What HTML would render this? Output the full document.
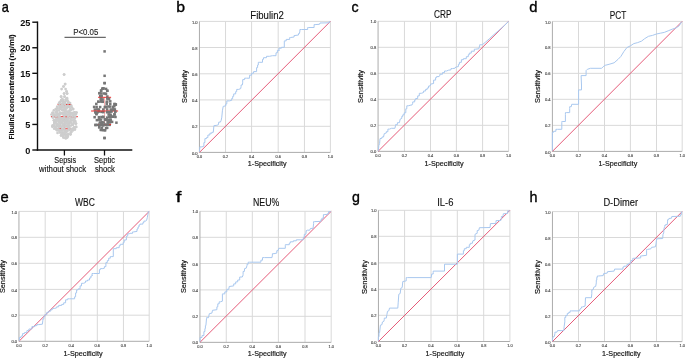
<!DOCTYPE html>
<html><head><meta charset="utf-8"><style>
html,body{margin:0;padding:0;background:#fff;overflow:hidden;width:685px;height:358px;}
svg{display:block;font-family:"Liberation Sans", sans-serif;will-change:transform;}
</style></head><body>
<svg width="685" height="358" viewBox="0 0 685 358">
<rect width="685" height="358" fill="#fff"/>
<line x1="225.55" y1="21.40" x2="225.55" y2="152.40" stroke="#d9d9d9" stroke-width="1"/>
<line x1="251.60" y1="21.40" x2="251.60" y2="152.40" stroke="#d9d9d9" stroke-width="1"/>
<line x1="278.20" y1="21.40" x2="278.20" y2="152.40" stroke="#d9d9d9" stroke-width="1"/>
<line x1="304.45" y1="21.40" x2="304.45" y2="152.40" stroke="#d9d9d9" stroke-width="1"/>
<line x1="330.40" y1="21.40" x2="330.40" y2="152.40" stroke="#d9d9d9" stroke-width="1"/>
<line x1="199.45" y1="21.40" x2="330.40" y2="21.40" stroke="#d9d9d9" stroke-width="1"/>
<line x1="199.45" y1="47.50" x2="330.40" y2="47.50" stroke="#d9d9d9" stroke-width="1"/>
<line x1="199.45" y1="73.80" x2="330.40" y2="73.80" stroke="#d9d9d9" stroke-width="1"/>
<line x1="199.45" y1="99.90" x2="330.40" y2="99.90" stroke="#d9d9d9" stroke-width="1"/>
<line x1="199.45" y1="126.30" x2="330.40" y2="126.30" stroke="#d9d9d9" stroke-width="1"/>
<line x1="199.45" y1="21.40" x2="199.45" y2="152.40" stroke="#acacac" stroke-width="1"/>
<line x1="199.45" y1="152.40" x2="330.40" y2="152.40" stroke="#acacac" stroke-width="1"/>
<line x1="199.45" y1="152.40" x2="330.40" y2="21.40" stroke="#e55a78" stroke-width="1.0"/>
<polyline points="199.4,151.9 199.8,148.1 199.8,146.9 202.0,146.9 203.9,146.1 203.9,142.6 204.9,142.6 204.9,138.6 206.5,138.6 206.5,137.6 207.9,137.6 207.9,135.0 209.9,135.0 209.9,133.2 211.9,133.2 211.9,132.3 213.3,132.3 213.9,125.7 216.9,125.3 218.4,124.7 218.8,122.1 220.4,122.1 221.2,120.3 221.8,117.2 222.4,110.8 223.2,106.4 225.8,105.8 225.8,103.9 226.8,103.9 226.8,100.9 229.4,100.9 231.7,100.3 231.7,98.5 232.7,98.5 232.7,96.3 233.7,96.3 233.7,93.9 235.7,93.9 235.7,91.6 236.7,91.6 236.7,89.4 238.7,89.4 240.7,88.6 241.1,86.6 241.1,85.0 242.3,85.0 242.7,82.9 242.7,79.6 244.6,79.6 244.6,78.2 246.6,78.2 249.6,78.2 249.6,75.2 251.6,75.2 251.6,73.2 253.6,73.2 253.6,71.6 256.6,71.6 256.6,67.6 257.6,67.6 257.6,65.0 258.3,65.0 258.3,62.3 259.1,62.3 262.5,62.3 262.5,59.3 263.5,59.3 263.5,57.7 266.5,57.7 266.5,56.3 269.5,56.3 272.4,55.7 276.0,55.7 276.0,52.8 277.4,52.8 277.4,50.4 279.4,50.4 278.9,49.2 278.9,48.2 281.4,48.2 281.4,47.3 284.3,47.3 284.3,41.9 284.3,40.9 286.2,40.9 286.2,39.4 289.7,39.4 289.7,37.5 290.6,37.5 294.1,37.0 294.1,35.5 295.0,35.5 298.5,35.0 298.5,33.6 299.4,33.6 299.9,31.1 299.9,29.5 301.4,29.5 307.7,29.5 307.7,27.5 308.7,27.5 314.1,27.5 314.1,24.6 315.1,24.6 319.5,24.3 320.0,23.0 329.3,22.8 329.3,21.6 330.2,21.6" fill="none" stroke="#a9c8ef" stroke-width="1.0" stroke-linejoin="round"/>
<text x="199.45" y="157.90" font-size="3.9" text-anchor="middle" fill="#3a3a3a" stroke="#3a3a3a" stroke-width="0.1">0.0</text>
<text x="197.65" y="154.50" font-size="4.1" text-anchor="end" fill="#3a3a3a" stroke="#3a3a3a" stroke-width="0.1">0.0</text>
<text x="225.55" y="157.90" font-size="3.9" text-anchor="middle" fill="#3a3a3a" stroke="#3a3a3a" stroke-width="0.1">0.2</text>
<text x="197.65" y="128.40" font-size="4.1" text-anchor="end" fill="#3a3a3a" stroke="#3a3a3a" stroke-width="0.1">0.2</text>
<text x="251.60" y="157.90" font-size="3.9" text-anchor="middle" fill="#3a3a3a" stroke="#3a3a3a" stroke-width="0.1">0.4</text>
<text x="197.65" y="102.00" font-size="4.1" text-anchor="end" fill="#3a3a3a" stroke="#3a3a3a" stroke-width="0.1">0.4</text>
<text x="278.20" y="157.90" font-size="3.9" text-anchor="middle" fill="#3a3a3a" stroke="#3a3a3a" stroke-width="0.1">0.6</text>
<text x="197.65" y="75.90" font-size="4.1" text-anchor="end" fill="#3a3a3a" stroke="#3a3a3a" stroke-width="0.1">0.6</text>
<text x="304.45" y="157.90" font-size="3.9" text-anchor="middle" fill="#3a3a3a" stroke="#3a3a3a" stroke-width="0.1">0.8</text>
<text x="197.65" y="49.60" font-size="4.1" text-anchor="end" fill="#3a3a3a" stroke="#3a3a3a" stroke-width="0.1">0.8</text>
<text x="330.40" y="157.90" font-size="3.9" text-anchor="middle" fill="#3a3a3a" stroke="#3a3a3a" stroke-width="0.1">1.0</text>
<text x="197.65" y="23.50" font-size="4.1" text-anchor="end" fill="#3a3a3a" stroke="#3a3a3a" stroke-width="0.1">1.0</text>
<text x="267.10" y="18.50" font-size="10.0" text-anchor="middle" textLength="33.60" lengthAdjust="spacingAndGlyphs" fill="#111" stroke="#111" stroke-width="0.12">Fibulin2</text>
<text x="267.15" y="166.10" font-size="7.2" text-anchor="middle" textLength="38.70" lengthAdjust="spacingAndGlyphs" fill="#111" stroke="#111" stroke-width="0.16">1-Specificity</text>
<text transform="translate(187.10,86.55) rotate(-90)" font-size="7.2" text-anchor="middle" textLength="32.90" lengthAdjust="spacingAndGlyphs" fill="#111" stroke="#111" stroke-width="0.16">Sensitivity</text>
<line x1="404.45" y1="21.30" x2="404.45" y2="151.35" stroke="#d9d9d9" stroke-width="1"/>
<line x1="430.50" y1="21.30" x2="430.50" y2="151.35" stroke="#d9d9d9" stroke-width="1"/>
<line x1="456.40" y1="21.30" x2="456.40" y2="151.35" stroke="#d9d9d9" stroke-width="1"/>
<line x1="482.60" y1="21.30" x2="482.60" y2="151.35" stroke="#d9d9d9" stroke-width="1"/>
<line x1="508.60" y1="21.30" x2="508.60" y2="151.35" stroke="#d9d9d9" stroke-width="1"/>
<line x1="378.07" y1="21.30" x2="508.60" y2="21.30" stroke="#d9d9d9" stroke-width="1"/>
<line x1="378.07" y1="47.30" x2="508.60" y2="47.30" stroke="#d9d9d9" stroke-width="1"/>
<line x1="378.07" y1="73.30" x2="508.60" y2="73.30" stroke="#d9d9d9" stroke-width="1"/>
<line x1="378.07" y1="99.30" x2="508.60" y2="99.30" stroke="#d9d9d9" stroke-width="1"/>
<line x1="378.07" y1="125.30" x2="508.60" y2="125.30" stroke="#d9d9d9" stroke-width="1"/>
<line x1="378.07" y1="21.30" x2="378.07" y2="151.35" stroke="#acacac" stroke-width="1"/>
<line x1="378.07" y1="151.35" x2="508.60" y2="151.35" stroke="#acacac" stroke-width="1"/>
<line x1="378.07" y1="151.35" x2="508.60" y2="21.30" stroke="#e55a78" stroke-width="1.0"/>
<polyline points="378.4,150.9 378.8,145.6 379.6,143.6 380.0,138.6 382.0,138.2 382.0,137.0 383.5,137.0 384.3,133.6 386.3,133.0 386.3,131.7 387.9,131.7 387.9,129.1 389.5,129.1 391.5,128.3 394.9,128.3 395.5,125.7 395.5,124.7 397.4,124.7 397.4,122.7 399.4,122.7 400.2,119.1 401.8,118.4 401.8,116.4 402.8,116.4 402.8,114.8 404.2,114.8 404.2,112.8 405.8,112.8 405.8,108.8 406.8,108.8 406.8,105.8 408.2,105.8 410.1,105.3 412.1,104.9 412.7,103.3 412.7,101.9 414.7,101.9 414.7,99.9 415.7,99.9 415.7,98.5 417.7,98.5 417.7,95.9 419.3,95.9 419.3,93.3 421.3,93.3 423.6,92.5 423.6,91.0 425.6,91.0 425.6,89.4 427.2,89.4 427.2,88.0 428.6,88.0 428.6,86.0 430.0,86.0 430.6,85.0 430.6,84.1 433.6,83.5 433.6,80.1 435.6,80.1 435.6,77.6 436.6,77.6 436.6,76.6 439.1,76.6 439.9,75.2 439.9,74.2 442.5,74.2 442.5,72.6 444.5,72.6 444.5,71.0 446.5,71.0 448.5,70.2 451.0,69.8 451.0,68.6 452.4,68.6 455.0,68.2 455.8,67.0 458.4,66.6 458.4,64.3 459.4,64.3 459.4,62.3 461.4,62.3 461.4,59.7 463.4,59.7 463.4,58.7 466.3,58.7 466.3,56.7 468.3,56.7 468.3,54.7 469.3,54.7 469.3,53.1 471.3,53.1 471.3,51.2 474.3,51.2 474.3,49.2 475.3,49.2 478.8,48.8 479.6,45.8 479.6,44.8 482.2,44.8 485.2,42.4 489.2,38.9 493.1,35.3 497.1,31.9 501.1,28.5 505.0,25.0 508.6,21.4" fill="none" stroke="#a9c8ef" stroke-width="1.0" stroke-linejoin="round"/>
<text x="378.07" y="156.85" font-size="3.9" text-anchor="middle" fill="#3a3a3a" stroke="#3a3a3a" stroke-width="0.1">0.0</text>
<text x="376.27" y="153.45" font-size="4.1" text-anchor="end" fill="#3a3a3a" stroke="#3a3a3a" stroke-width="0.1">0.0</text>
<text x="404.45" y="156.85" font-size="3.9" text-anchor="middle" fill="#3a3a3a" stroke="#3a3a3a" stroke-width="0.1">0.2</text>
<text x="376.27" y="127.40" font-size="4.1" text-anchor="end" fill="#3a3a3a" stroke="#3a3a3a" stroke-width="0.1">0.2</text>
<text x="430.50" y="156.85" font-size="3.9" text-anchor="middle" fill="#3a3a3a" stroke="#3a3a3a" stroke-width="0.1">0.4</text>
<text x="376.27" y="101.40" font-size="4.1" text-anchor="end" fill="#3a3a3a" stroke="#3a3a3a" stroke-width="0.1">0.4</text>
<text x="456.40" y="156.85" font-size="3.9" text-anchor="middle" fill="#3a3a3a" stroke="#3a3a3a" stroke-width="0.1">0.6</text>
<text x="376.27" y="75.40" font-size="4.1" text-anchor="end" fill="#3a3a3a" stroke="#3a3a3a" stroke-width="0.1">0.6</text>
<text x="482.60" y="156.85" font-size="3.9" text-anchor="middle" fill="#3a3a3a" stroke="#3a3a3a" stroke-width="0.1">0.8</text>
<text x="376.27" y="49.40" font-size="4.1" text-anchor="end" fill="#3a3a3a" stroke="#3a3a3a" stroke-width="0.1">0.8</text>
<text x="508.60" y="156.85" font-size="3.9" text-anchor="middle" fill="#3a3a3a" stroke="#3a3a3a" stroke-width="0.1">1.0</text>
<text x="376.27" y="23.40" font-size="4.1" text-anchor="end" fill="#3a3a3a" stroke="#3a3a3a" stroke-width="0.1">1.0</text>
<text x="442.80" y="18.40" font-size="10.0" text-anchor="middle" textLength="17.40" lengthAdjust="spacingAndGlyphs" fill="#111" stroke="#111" stroke-width="0.12">CRP</text>
<text x="444.05" y="166.10" font-size="7.2" text-anchor="middle" textLength="39.10" lengthAdjust="spacingAndGlyphs" fill="#111" stroke="#111" stroke-width="0.16">1-Specificity</text>
<text transform="translate(362.90,86.60) rotate(-90)" font-size="7.2" text-anchor="middle" textLength="33.00" lengthAdjust="spacingAndGlyphs" fill="#111" stroke="#111" stroke-width="0.16">Sensitivity</text>
<line x1="578.50" y1="21.40" x2="578.50" y2="151.40" stroke="#d9d9d9" stroke-width="1"/>
<line x1="604.50" y1="21.40" x2="604.50" y2="151.40" stroke="#d9d9d9" stroke-width="1"/>
<line x1="630.40" y1="21.40" x2="630.40" y2="151.40" stroke="#d9d9d9" stroke-width="1"/>
<line x1="656.50" y1="21.40" x2="656.50" y2="151.40" stroke="#d9d9d9" stroke-width="1"/>
<line x1="682.20" y1="21.40" x2="682.20" y2="151.40" stroke="#d9d9d9" stroke-width="1"/>
<line x1="552.40" y1="21.40" x2="682.20" y2="21.40" stroke="#d9d9d9" stroke-width="1"/>
<line x1="552.40" y1="47.35" x2="682.20" y2="47.35" stroke="#d9d9d9" stroke-width="1"/>
<line x1="552.40" y1="73.35" x2="682.20" y2="73.35" stroke="#d9d9d9" stroke-width="1"/>
<line x1="552.40" y1="99.30" x2="682.20" y2="99.30" stroke="#d9d9d9" stroke-width="1"/>
<line x1="552.40" y1="125.36" x2="682.20" y2="125.36" stroke="#d9d9d9" stroke-width="1"/>
<line x1="552.40" y1="21.40" x2="552.40" y2="151.40" stroke="#acacac" stroke-width="1"/>
<line x1="552.40" y1="151.40" x2="682.20" y2="151.40" stroke="#acacac" stroke-width="1"/>
<line x1="552.40" y1="151.40" x2="682.20" y2="21.40" stroke="#e55a78" stroke-width="1.0"/>
<polyline points="552.4,150.6 552.4,134.3 552.4,132.3 553.5,132.3 553.5,131.3 555.9,131.3 555.9,129.3 557.5,129.3 561.8,129.3 561.8,122.4 561.8,121.5 562.8,121.5 565.4,121.5 565.4,114.6 565.4,112.6 566.8,112.6 569.7,112.6 569.7,108.6 569.7,106.7 571.3,106.7 571.7,104.3 578.6,104.3 578.6,89.9 581.5,89.9 581.5,85.0 581.1,75.6 586.1,75.6 586.1,70.6 587.4,69.3 590.4,68.3 601.6,68.3 603.2,66.7 605.2,65.3 609.1,64.3 614.1,62.8 618.0,59.4 620.9,56.4 623.9,51.5 626.9,47.6 630.8,45.6 633.8,43.6 637.7,42.6 641.6,41.1 644.6,38.7 648.5,36.3 652.5,35.4 656.4,34.0 660.4,33.2 664.3,32.4 668.2,30.8 672.2,29.2 676.1,27.9 679.1,25.9 681.7,21.8" fill="none" stroke="#a9c8ef" stroke-width="1.0" stroke-linejoin="round"/>
<text x="552.40" y="156.90" font-size="3.9" text-anchor="middle" fill="#3a3a3a" stroke="#3a3a3a" stroke-width="0.1">0.0</text>
<text x="550.60" y="153.50" font-size="4.1" text-anchor="end" fill="#3a3a3a" stroke="#3a3a3a" stroke-width="0.1">0.0</text>
<text x="578.50" y="156.90" font-size="3.9" text-anchor="middle" fill="#3a3a3a" stroke="#3a3a3a" stroke-width="0.1">0.2</text>
<text x="550.60" y="127.46" font-size="4.1" text-anchor="end" fill="#3a3a3a" stroke="#3a3a3a" stroke-width="0.1">0.2</text>
<text x="604.50" y="156.90" font-size="3.9" text-anchor="middle" fill="#3a3a3a" stroke="#3a3a3a" stroke-width="0.1">0.4</text>
<text x="550.60" y="101.40" font-size="4.1" text-anchor="end" fill="#3a3a3a" stroke="#3a3a3a" stroke-width="0.1">0.4</text>
<text x="630.40" y="156.90" font-size="3.9" text-anchor="middle" fill="#3a3a3a" stroke="#3a3a3a" stroke-width="0.1">0.6</text>
<text x="550.60" y="75.45" font-size="4.1" text-anchor="end" fill="#3a3a3a" stroke="#3a3a3a" stroke-width="0.1">0.6</text>
<text x="656.50" y="156.90" font-size="3.9" text-anchor="middle" fill="#3a3a3a" stroke="#3a3a3a" stroke-width="0.1">0.8</text>
<text x="550.60" y="49.45" font-size="4.1" text-anchor="end" fill="#3a3a3a" stroke="#3a3a3a" stroke-width="0.1">0.8</text>
<text x="682.20" y="156.90" font-size="3.9" text-anchor="middle" fill="#3a3a3a" stroke="#3a3a3a" stroke-width="0.1">1.0</text>
<text x="550.60" y="23.50" font-size="4.1" text-anchor="end" fill="#3a3a3a" stroke="#3a3a3a" stroke-width="0.1">1.0</text>
<text x="617.95" y="18.50" font-size="10.0" text-anchor="middle" textLength="16.50" lengthAdjust="spacingAndGlyphs" fill="#111" stroke="#111" stroke-width="0.12">PCT</text>
<text x="617.95" y="166.00" font-size="7.2" text-anchor="middle" textLength="38.70" lengthAdjust="spacingAndGlyphs" fill="#111" stroke="#111" stroke-width="0.16">1-Specificity</text>
<text transform="translate(540.40,86.60) rotate(-90)" font-size="7.2" text-anchor="middle" textLength="33.00" lengthAdjust="spacingAndGlyphs" fill="#111" stroke="#111" stroke-width="0.16">Sensitivity</text>
<line x1="45.20" y1="211.40" x2="45.20" y2="341.30" stroke="#d9d9d9" stroke-width="1"/>
<line x1="71.20" y1="211.40" x2="71.20" y2="341.30" stroke="#d9d9d9" stroke-width="1"/>
<line x1="97.30" y1="211.40" x2="97.30" y2="341.30" stroke="#d9d9d9" stroke-width="1"/>
<line x1="123.45" y1="211.40" x2="123.45" y2="341.30" stroke="#d9d9d9" stroke-width="1"/>
<line x1="149.20" y1="211.40" x2="149.20" y2="341.30" stroke="#d9d9d9" stroke-width="1"/>
<line x1="18.95" y1="211.40" x2="149.20" y2="211.40" stroke="#d9d9d9" stroke-width="1"/>
<line x1="18.95" y1="237.30" x2="149.20" y2="237.30" stroke="#d9d9d9" stroke-width="1"/>
<line x1="18.95" y1="263.30" x2="149.20" y2="263.30" stroke="#d9d9d9" stroke-width="1"/>
<line x1="18.95" y1="289.40" x2="149.20" y2="289.40" stroke="#d9d9d9" stroke-width="1"/>
<line x1="18.95" y1="315.20" x2="149.20" y2="315.20" stroke="#d9d9d9" stroke-width="1"/>
<line x1="18.95" y1="211.40" x2="18.95" y2="341.30" stroke="#acacac" stroke-width="1"/>
<line x1="18.95" y1="341.30" x2="149.20" y2="341.30" stroke="#acacac" stroke-width="1"/>
<line x1="18.95" y1="341.30" x2="149.20" y2="211.40" stroke="#e55a78" stroke-width="1.0"/>
<polyline points="19.4,340.9 19.4,337.5 21.0,337.5 21.0,336.1 22.6,336.1 22.6,333.6 24.5,333.6 24.5,332.6 26.9,332.6 26.9,330.6 28.9,330.6 28.9,329.0 31.9,329.0 31.9,326.6 34.9,326.6 34.9,325.6 36.9,325.6 36.9,324.6 38.8,324.6 42.4,324.2 42.8,320.7 42.8,319.1 43.8,319.1 43.8,316.7 44.8,316.7 44.8,314.7 46.8,314.7 46.8,312.3 48.8,312.3 48.8,311.1 50.8,311.1 50.8,309.7 52.3,309.7 52.7,308.4 54.7,308.4 56.7,307.8 56.7,306.8 58.7,306.8 58.7,305.4 61.7,305.4 61.7,304.4 63.7,304.4 63.7,302.8 65.6,302.8 65.6,299.8 67.6,299.8 67.6,298.8 69.6,298.8 74.6,298.8 74.6,296.8 75.6,296.8 75.6,292.9 76.6,292.9 76.6,289.9 78.1,289.9 78.1,288.9 80.1,288.9 80.1,285.9 81.5,285.9 81.5,283.3 83.5,283.3 85.5,282.5 85.5,281.0 87.5,281.0 87.5,280.0 89.5,280.0 89.5,278.0 90.9,278.0 90.9,276.0 92.0,276.0 92.4,275.0 92.0,274.9 92.0,273.5 93.4,273.5 99.4,273.5 99.4,269.6 100.4,269.6 100.4,268.6 102.8,268.6 104.4,268.2 104.4,266.6 105.9,266.6 105.9,262.6 107.3,262.6 107.3,260.6 108.7,260.6 108.7,258.2 110.3,258.2 110.3,256.6 111.9,256.6 113.3,256.6 113.3,248.7 116.3,248.7 116.3,247.7 119.2,247.7 119.2,245.7 120.2,245.7 120.2,244.3 123.2,244.3 123.2,242.4 124.2,242.4 124.2,240.0 126.3,240.0 126.5,237.3 126.5,236.1 127.7,236.1 127.7,233.8 129.2,233.8 130.0,233.3 132.6,233.3 132.6,231.9 133.6,231.9 137.0,231.4 137.0,229.0 138.0,229.0 138.0,227.0 139.0,227.0 139.0,225.0 140.0,225.0 140.0,224.1 142.9,224.1 142.9,222.6 143.9,222.6 143.9,221.1 145.8,221.1 146.6,220.2 147.3,217.7 147.8,214.8 148.3,212.8 148.3,211.6 149.3,211.6" fill="none" stroke="#a9c8ef" stroke-width="1.0" stroke-linejoin="round"/>
<text x="18.95" y="346.80" font-size="3.9" text-anchor="middle" fill="#3a3a3a" stroke="#3a3a3a" stroke-width="0.1">0.0</text>
<text x="17.15" y="343.40" font-size="4.1" text-anchor="end" fill="#3a3a3a" stroke="#3a3a3a" stroke-width="0.1">0.0</text>
<text x="45.20" y="346.80" font-size="3.9" text-anchor="middle" fill="#3a3a3a" stroke="#3a3a3a" stroke-width="0.1">0.2</text>
<text x="17.15" y="317.30" font-size="4.1" text-anchor="end" fill="#3a3a3a" stroke="#3a3a3a" stroke-width="0.1">0.2</text>
<text x="71.20" y="346.80" font-size="3.9" text-anchor="middle" fill="#3a3a3a" stroke="#3a3a3a" stroke-width="0.1">0.4</text>
<text x="17.15" y="291.50" font-size="4.1" text-anchor="end" fill="#3a3a3a" stroke="#3a3a3a" stroke-width="0.1">0.4</text>
<text x="97.30" y="346.80" font-size="3.9" text-anchor="middle" fill="#3a3a3a" stroke="#3a3a3a" stroke-width="0.1">0.6</text>
<text x="17.15" y="265.40" font-size="4.1" text-anchor="end" fill="#3a3a3a" stroke="#3a3a3a" stroke-width="0.1">0.6</text>
<text x="123.45" y="346.80" font-size="3.9" text-anchor="middle" fill="#3a3a3a" stroke="#3a3a3a" stroke-width="0.1">0.8</text>
<text x="17.15" y="239.40" font-size="4.1" text-anchor="end" fill="#3a3a3a" stroke="#3a3a3a" stroke-width="0.1">0.8</text>
<text x="149.20" y="346.80" font-size="3.9" text-anchor="middle" fill="#3a3a3a" stroke="#3a3a3a" stroke-width="0.1">1.0</text>
<text x="17.15" y="213.50" font-size="4.1" text-anchor="end" fill="#3a3a3a" stroke="#3a3a3a" stroke-width="0.1">1.0</text>
<text x="84.90" y="205.80" font-size="10.0" text-anchor="middle" textLength="19.80" lengthAdjust="spacingAndGlyphs" fill="#111" stroke="#111" stroke-width="0.12">WBC</text>
<text x="83.05" y="355.90" font-size="7.2" text-anchor="middle" textLength="39.10" lengthAdjust="spacingAndGlyphs" fill="#111" stroke="#111" stroke-width="0.16">1-Specificity</text>
<text transform="translate(5.10,276.60) rotate(-90)" font-size="7.2" text-anchor="middle" textLength="33.00" lengthAdjust="spacingAndGlyphs" fill="#111" stroke="#111" stroke-width="0.16">Sensitivity</text>
<line x1="226.25" y1="211.30" x2="226.25" y2="342.35" stroke="#d9d9d9" stroke-width="1"/>
<line x1="252.30" y1="211.30" x2="252.30" y2="342.35" stroke="#d9d9d9" stroke-width="1"/>
<line x1="278.40" y1="211.30" x2="278.40" y2="342.35" stroke="#d9d9d9" stroke-width="1"/>
<line x1="305.00" y1="211.30" x2="305.00" y2="342.35" stroke="#d9d9d9" stroke-width="1"/>
<line x1="331.20" y1="211.30" x2="331.20" y2="342.35" stroke="#d9d9d9" stroke-width="1"/>
<line x1="199.95" y1="211.30" x2="331.20" y2="211.30" stroke="#d9d9d9" stroke-width="1"/>
<line x1="199.95" y1="237.30" x2="331.20" y2="237.30" stroke="#d9d9d9" stroke-width="1"/>
<line x1="199.95" y1="263.50" x2="331.20" y2="263.50" stroke="#d9d9d9" stroke-width="1"/>
<line x1="199.95" y1="289.90" x2="331.20" y2="289.90" stroke="#d9d9d9" stroke-width="1"/>
<line x1="199.95" y1="316.30" x2="331.20" y2="316.30" stroke="#d9d9d9" stroke-width="1"/>
<line x1="199.95" y1="211.30" x2="199.95" y2="342.35" stroke="#acacac" stroke-width="1"/>
<line x1="199.95" y1="342.35" x2="331.20" y2="342.35" stroke="#acacac" stroke-width="1"/>
<line x1="199.95" y1="342.35" x2="331.20" y2="211.30" stroke="#e55a78" stroke-width="1.0"/>
<polyline points="200.0,341.7 200.0,338.9 200.0,337.5 202.0,337.5 202.0,335.6 203.9,335.6 203.9,331.6 204.9,331.6 204.9,328.6 205.4,328.6 205.4,325.6 205.9,325.6 206.5,318.7 206.5,317.7 208.5,317.7 209.3,313.7 211.9,313.1 212.5,310.3 216.9,309.7 216.9,306.8 217.8,306.8 217.8,303.8 219.2,303.8 219.2,301.8 220.4,301.8 222.4,301.2 222.4,294.9 222.4,293.9 224.8,293.9 224.8,291.9 226.8,291.9 226.8,289.3 228.8,289.3 229.2,286.5 233.7,285.9 233.7,283.9 235.7,283.9 235.7,281.9 237.7,281.9 237.7,280.0 239.7,280.0 239.7,277.0 242.3,277.0 243.1,275.0 243.1,274.5 243.1,271.5 244.3,271.5 244.6,268.6 246.2,268.2 247.0,265.6 247.0,264.2 248.2,264.2 248.2,262.2 249.6,262.2 260.9,262.2 260.9,260.2 262.5,260.2 262.5,257.6 264.5,257.6 272.0,257.6 272.4,255.1 272.4,253.7 274.0,253.7 276.8,253.1 276.8,250.7 278.0,250.7 278.8,248.3 285.3,248.3 285.3,245.7 285.3,244.7 289.3,244.7 289.3,243.1 290.3,243.1 290.3,241.8 293.3,241.8 293.3,240.8 296.3,240.8 296.3,239.8 300.2,239.8 303.2,239.8 303.3,238.7 303.3,237.3 304.3,237.3 304.3,234.3 305.8,234.3 306.3,230.6 307.3,230.2 309.7,230.2 310.4,228.5 313.1,228.3 313.6,223.6 313.6,221.6 314.6,221.6 320.9,221.4 320.9,219.7 321.9,219.7 321.9,218.2 323.4,218.2 323.4,214.6 324.9,214.6 327.8,214.3 327.8,213.3 328.6,213.3 328.6,211.6 330.7,211.6" fill="none" stroke="#a9c8ef" stroke-width="1.0" stroke-linejoin="round"/>
<text x="199.95" y="347.85" font-size="3.9" text-anchor="middle" fill="#3a3a3a" stroke="#3a3a3a" stroke-width="0.1">0.0</text>
<text x="198.15" y="344.45" font-size="4.1" text-anchor="end" fill="#3a3a3a" stroke="#3a3a3a" stroke-width="0.1">0.0</text>
<text x="226.25" y="347.85" font-size="3.9" text-anchor="middle" fill="#3a3a3a" stroke="#3a3a3a" stroke-width="0.1">0.2</text>
<text x="198.15" y="318.40" font-size="4.1" text-anchor="end" fill="#3a3a3a" stroke="#3a3a3a" stroke-width="0.1">0.2</text>
<text x="252.30" y="347.85" font-size="3.9" text-anchor="middle" fill="#3a3a3a" stroke="#3a3a3a" stroke-width="0.1">0.4</text>
<text x="198.15" y="292.00" font-size="4.1" text-anchor="end" fill="#3a3a3a" stroke="#3a3a3a" stroke-width="0.1">0.4</text>
<text x="278.40" y="347.85" font-size="3.9" text-anchor="middle" fill="#3a3a3a" stroke="#3a3a3a" stroke-width="0.1">0.6</text>
<text x="198.15" y="265.60" font-size="4.1" text-anchor="end" fill="#3a3a3a" stroke="#3a3a3a" stroke-width="0.1">0.6</text>
<text x="305.00" y="347.85" font-size="3.9" text-anchor="middle" fill="#3a3a3a" stroke="#3a3a3a" stroke-width="0.1">0.8</text>
<text x="198.15" y="239.40" font-size="4.1" text-anchor="end" fill="#3a3a3a" stroke="#3a3a3a" stroke-width="0.1">0.8</text>
<text x="331.20" y="347.85" font-size="3.9" text-anchor="middle" fill="#3a3a3a" stroke="#3a3a3a" stroke-width="0.1">1.0</text>
<text x="198.15" y="213.40" font-size="4.1" text-anchor="end" fill="#3a3a3a" stroke="#3a3a3a" stroke-width="0.1">1.0</text>
<text x="266.15" y="205.80" font-size="10.0" text-anchor="middle" textLength="26.30" lengthAdjust="spacingAndGlyphs" fill="#111" stroke="#111" stroke-width="0.12">NEU%</text>
<text x="267.15" y="355.90" font-size="7.2" text-anchor="middle" textLength="38.70" lengthAdjust="spacingAndGlyphs" fill="#111" stroke="#111" stroke-width="0.16">1-Specificity</text>
<text transform="translate(186.30,276.60) rotate(-90)" font-size="7.2" text-anchor="middle" textLength="33.00" lengthAdjust="spacingAndGlyphs" fill="#111" stroke="#111" stroke-width="0.16">Sensitivity</text>
<line x1="404.60" y1="210.30" x2="404.60" y2="341.50" stroke="#d9d9d9" stroke-width="1"/>
<line x1="431.00" y1="210.30" x2="431.00" y2="341.50" stroke="#d9d9d9" stroke-width="1"/>
<line x1="457.30" y1="210.30" x2="457.30" y2="341.50" stroke="#d9d9d9" stroke-width="1"/>
<line x1="483.70" y1="210.30" x2="483.70" y2="341.50" stroke="#d9d9d9" stroke-width="1"/>
<line x1="509.90" y1="210.30" x2="509.90" y2="341.50" stroke="#d9d9d9" stroke-width="1"/>
<line x1="378.45" y1="210.30" x2="509.90" y2="210.30" stroke="#d9d9d9" stroke-width="1"/>
<line x1="378.45" y1="236.30" x2="509.90" y2="236.30" stroke="#d9d9d9" stroke-width="1"/>
<line x1="378.45" y1="262.90" x2="509.90" y2="262.90" stroke="#d9d9d9" stroke-width="1"/>
<line x1="378.45" y1="289.30" x2="509.90" y2="289.30" stroke="#d9d9d9" stroke-width="1"/>
<line x1="378.45" y1="315.30" x2="509.90" y2="315.30" stroke="#d9d9d9" stroke-width="1"/>
<line x1="378.45" y1="210.30" x2="378.45" y2="341.50" stroke="#acacac" stroke-width="1"/>
<line x1="378.45" y1="341.50" x2="509.90" y2="341.50" stroke="#acacac" stroke-width="1"/>
<line x1="378.45" y1="341.50" x2="509.90" y2="210.30" stroke="#e55a78" stroke-width="1.0"/>
<polyline points="378.4,341.1 378.4,336.8 379.0,336.8 379.0,332.6 379.6,332.6 380.4,325.2 382.0,324.6 382.4,322.0 383.9,321.3 384.3,319.3 384.3,318.1 386.3,318.1 386.9,314.7 387.5,311.3 388.9,310.7 389.5,308.1 397.8,308.1 398.2,302.8 398.8,294.3 400.2,293.5 400.8,288.3 402.2,287.5 402.8,281.5 406.2,280.9 406.2,277.6 407.4,277.6 431.2,277.6 431.6,275.0 431.6,274.0 433.2,274.0 433.2,272.5 433.2,271.1 444.5,271.1 444.5,264.2 457.4,264.2 457.4,254.1 463.4,254.1 463.4,250.7 464.3,250.7 464.3,248.7 466.3,248.7 466.3,247.3 469.3,247.3 469.3,244.7 470.3,244.7 470.3,243.3 472.3,243.3 472.9,240.8 475.0,240.0 475.0,234.3 476.0,233.8 477.2,233.3 477.2,230.6 478.9,230.2 479.4,227.7 490.1,227.5 490.4,223.6 496.0,223.4 496.0,220.6 497.0,220.6 500.9,220.4 501.4,217.7 501.4,216.5 503.0,216.5 503.3,213.8 507.7,213.3 507.7,210.9 509.7,210.9" fill="none" stroke="#a9c8ef" stroke-width="1.0" stroke-linejoin="round"/>
<text x="378.45" y="347.00" font-size="3.9" text-anchor="middle" fill="#3a3a3a" stroke="#3a3a3a" stroke-width="0.1">0.0</text>
<text x="376.65" y="343.60" font-size="4.1" text-anchor="end" fill="#3a3a3a" stroke="#3a3a3a" stroke-width="0.1">0.0</text>
<text x="404.60" y="347.00" font-size="3.9" text-anchor="middle" fill="#3a3a3a" stroke="#3a3a3a" stroke-width="0.1">0.2</text>
<text x="376.65" y="317.40" font-size="4.1" text-anchor="end" fill="#3a3a3a" stroke="#3a3a3a" stroke-width="0.1">0.2</text>
<text x="431.00" y="347.00" font-size="3.9" text-anchor="middle" fill="#3a3a3a" stroke="#3a3a3a" stroke-width="0.1">0.4</text>
<text x="376.65" y="291.40" font-size="4.1" text-anchor="end" fill="#3a3a3a" stroke="#3a3a3a" stroke-width="0.1">0.4</text>
<text x="457.30" y="347.00" font-size="3.9" text-anchor="middle" fill="#3a3a3a" stroke="#3a3a3a" stroke-width="0.1">0.6</text>
<text x="376.65" y="265.00" font-size="4.1" text-anchor="end" fill="#3a3a3a" stroke="#3a3a3a" stroke-width="0.1">0.6</text>
<text x="483.70" y="347.00" font-size="3.9" text-anchor="middle" fill="#3a3a3a" stroke="#3a3a3a" stroke-width="0.1">0.8</text>
<text x="376.65" y="238.40" font-size="4.1" text-anchor="end" fill="#3a3a3a" stroke="#3a3a3a" stroke-width="0.1">0.8</text>
<text x="509.90" y="347.00" font-size="3.9" text-anchor="middle" fill="#3a3a3a" stroke="#3a3a3a" stroke-width="0.1">1.0</text>
<text x="376.65" y="212.40" font-size="4.1" text-anchor="end" fill="#3a3a3a" stroke="#3a3a3a" stroke-width="0.1">1.0</text>
<text x="445.30" y="205.80" font-size="10.0" text-anchor="middle" textLength="16.20" lengthAdjust="spacingAndGlyphs" fill="#111" stroke="#111" stroke-width="0.12">IL-6</text>
<text x="444.95" y="355.90" font-size="7.2" text-anchor="middle" textLength="38.70" lengthAdjust="spacingAndGlyphs" fill="#111" stroke="#111" stroke-width="0.16">1-Specificity</text>
<text transform="translate(366.80,277.05) rotate(-90)" font-size="7.2" text-anchor="middle" textLength="33.90" lengthAdjust="spacingAndGlyphs" fill="#111" stroke="#111" stroke-width="0.16">Sensitivity</text>
<line x1="578.50" y1="211.60" x2="578.50" y2="341.60" stroke="#d9d9d9" stroke-width="1"/>
<line x1="604.50" y1="211.60" x2="604.50" y2="341.60" stroke="#d9d9d9" stroke-width="1"/>
<line x1="630.40" y1="211.60" x2="630.40" y2="341.60" stroke="#d9d9d9" stroke-width="1"/>
<line x1="656.50" y1="211.60" x2="656.50" y2="341.60" stroke="#d9d9d9" stroke-width="1"/>
<line x1="682.20" y1="211.60" x2="682.20" y2="341.60" stroke="#d9d9d9" stroke-width="1"/>
<line x1="552.45" y1="211.60" x2="682.20" y2="211.60" stroke="#d9d9d9" stroke-width="1"/>
<line x1="552.45" y1="237.50" x2="682.20" y2="237.50" stroke="#d9d9d9" stroke-width="1"/>
<line x1="552.45" y1="263.50" x2="682.20" y2="263.50" stroke="#d9d9d9" stroke-width="1"/>
<line x1="552.45" y1="289.60" x2="682.20" y2="289.60" stroke="#d9d9d9" stroke-width="1"/>
<line x1="552.45" y1="315.60" x2="682.20" y2="315.60" stroke="#d9d9d9" stroke-width="1"/>
<line x1="552.45" y1="211.60" x2="552.45" y2="341.60" stroke="#acacac" stroke-width="1"/>
<line x1="552.45" y1="341.60" x2="682.20" y2="341.60" stroke="#acacac" stroke-width="1"/>
<line x1="552.45" y1="341.60" x2="682.20" y2="211.60" stroke="#e55a78" stroke-width="1.0"/>
<polyline points="552.4,341.2 552.8,337.1 554.3,336.5 554.9,333.7 554.9,332.2 556.9,332.2 557.5,330.6 563.8,330.6 564.2,326.2 564.8,321.9 564.8,317.4 565.8,317.4 565.8,315.4 567.3,315.4 567.3,313.4 568.7,313.4 568.7,312.4 570.1,312.4 570.1,310.9 571.3,310.9 579.6,310.9 580.0,308.9 581.5,308.1 581.5,306.9 582.5,306.9 585.1,306.1 585.5,297.7 591.4,297.7 591.8,293.7 591.8,289.8 593.0,289.8 593.8,287.2 595.7,286.4 596.3,282.9 596.3,280.1 596.8,280.1 596.8,277.4 597.3,277.4 597.3,276.0 598.3,276.0 603.2,275.6 603.6,273.6 607.2,273.1 607.5,271.7 614.1,271.1 614.6,269.1 622.9,269.1 622.9,267.1 623.9,267.1 623.9,266.2 626.9,266.2 626.9,264.6 628.8,264.6 628.8,263.2 630.8,263.2 630.8,260.6 632.8,260.6 632.8,258.3 633.8,258.3 640.7,257.9 640.7,255.9 641.6,255.9 646.6,255.3 646.6,250.8 646.6,249.4 647.6,249.4 650.9,248.8 651.5,247.4 655.4,246.8 656.0,244.1 656.4,240.5 656.8,238.8 662.7,238.5 663.0,234.4 663.7,232.9 664.0,228.5 664.7,226.5 664.7,225.4 665.6,225.4 665.6,224.6 667.3,224.6 667.6,221.1 667.6,219.7 668.6,219.7 668.9,218.5 671.5,218.2 671.8,216.5 680.3,216.3 680.3,214.8 681.3,214.8 681.3,212.0 682.3,212.0" fill="none" stroke="#a9c8ef" stroke-width="1.0" stroke-linejoin="round"/>
<text x="552.45" y="347.10" font-size="3.9" text-anchor="middle" fill="#3a3a3a" stroke="#3a3a3a" stroke-width="0.1">0.0</text>
<text x="550.65" y="343.70" font-size="4.1" text-anchor="end" fill="#3a3a3a" stroke="#3a3a3a" stroke-width="0.1">0.0</text>
<text x="578.50" y="347.10" font-size="3.9" text-anchor="middle" fill="#3a3a3a" stroke="#3a3a3a" stroke-width="0.1">0.2</text>
<text x="550.65" y="317.70" font-size="4.1" text-anchor="end" fill="#3a3a3a" stroke="#3a3a3a" stroke-width="0.1">0.2</text>
<text x="604.50" y="347.10" font-size="3.9" text-anchor="middle" fill="#3a3a3a" stroke="#3a3a3a" stroke-width="0.1">0.4</text>
<text x="550.65" y="291.70" font-size="4.1" text-anchor="end" fill="#3a3a3a" stroke="#3a3a3a" stroke-width="0.1">0.4</text>
<text x="630.40" y="347.10" font-size="3.9" text-anchor="middle" fill="#3a3a3a" stroke="#3a3a3a" stroke-width="0.1">0.6</text>
<text x="550.65" y="265.60" font-size="4.1" text-anchor="end" fill="#3a3a3a" stroke="#3a3a3a" stroke-width="0.1">0.6</text>
<text x="656.50" y="347.10" font-size="3.9" text-anchor="middle" fill="#3a3a3a" stroke="#3a3a3a" stroke-width="0.1">0.8</text>
<text x="550.65" y="239.60" font-size="4.1" text-anchor="end" fill="#3a3a3a" stroke="#3a3a3a" stroke-width="0.1">0.8</text>
<text x="682.20" y="347.10" font-size="3.9" text-anchor="middle" fill="#3a3a3a" stroke="#3a3a3a" stroke-width="0.1">1.0</text>
<text x="550.65" y="213.70" font-size="4.1" text-anchor="end" fill="#3a3a3a" stroke="#3a3a3a" stroke-width="0.1">1.0</text>
<text x="620.75" y="205.80" font-size="10.0" text-anchor="middle" textLength="34.70" lengthAdjust="spacingAndGlyphs" fill="#111" stroke="#111" stroke-width="0.12">D-Dimer</text>
<text x="621.30" y="355.90" font-size="7.2" text-anchor="middle" textLength="38.60" lengthAdjust="spacingAndGlyphs" fill="#111" stroke="#111" stroke-width="0.16">1-Specificity</text>
<text transform="translate(540.40,277.05) rotate(-90)" font-size="7.2" text-anchor="middle" textLength="33.90" lengthAdjust="spacingAndGlyphs" fill="#111" stroke="#111" stroke-width="0.16">Sensitivity</text>
<text x="5.25" y="12.3" font-size="14.8" text-anchor="middle" textLength="7.10" lengthAdjust="spacingAndGlyphs" fill="#000" stroke="#000" stroke-width="0.35">a</text>
<text x="180.70" y="12.3" font-size="14.8" text-anchor="middle" textLength="8.80" lengthAdjust="spacingAndGlyphs" fill="#000" stroke="#000" stroke-width="0.35">b</text>
<text x="355.15" y="12.3" font-size="14.8" text-anchor="middle" textLength="7.10" lengthAdjust="spacingAndGlyphs" fill="#000" stroke="#000" stroke-width="0.35">c</text>
<text x="533.40" y="12.3" font-size="14.8" text-anchor="middle" textLength="8.20" lengthAdjust="spacingAndGlyphs" fill="#000" stroke="#000" stroke-width="0.35">d</text>
<text x="4.70" y="202.3" font-size="14.8" text-anchor="middle" textLength="8.20" lengthAdjust="spacingAndGlyphs" fill="#000" stroke="#000" stroke-width="0.35">e</text>
<text x="178.57" y="202.3" font-size="14.8" text-anchor="middle" textLength="5.65" lengthAdjust="spacingAndGlyphs" fill="#000" stroke="#000" stroke-width="0.35">f</text>
<text x="355.85" y="202.3" font-size="14.8" text-anchor="middle" textLength="7.90" lengthAdjust="spacingAndGlyphs" fill="#000" stroke="#000" stroke-width="0.35">g</text>
<text x="533.50" y="202.3" font-size="14.8" text-anchor="middle" textLength="8.00" lengthAdjust="spacingAndGlyphs" fill="#000" stroke="#000" stroke-width="0.35">h</text>
<line x1="37.5" y1="21.50" x2="37.5" y2="150.70" stroke="#111" stroke-width="1.4"/>
<line x1="36.8" y1="150.0" x2="132.3" y2="150.0" stroke="#111" stroke-width="1.4"/>
<line x1="32.3" y1="150.00" x2="37.5" y2="150.00" stroke="#111" stroke-width="1.4"/>
<text x="30.4" y="153.60" font-size="9.2" font-weight="bold" text-anchor="end" fill="#111">0</text>
<line x1="32.3" y1="124.44" x2="37.5" y2="124.44" stroke="#111" stroke-width="1.4"/>
<text x="30.4" y="128.04" font-size="9.2" font-weight="bold" text-anchor="end" fill="#111">5</text>
<line x1="32.3" y1="98.88" x2="37.5" y2="98.88" stroke="#111" stroke-width="1.4"/>
<text x="30.4" y="102.48" font-size="9.2" font-weight="bold" text-anchor="end" fill="#111">10</text>
<line x1="32.3" y1="73.32" x2="37.5" y2="73.32" stroke="#111" stroke-width="1.4"/>
<text x="30.4" y="76.92" font-size="9.2" font-weight="bold" text-anchor="end" fill="#111">15</text>
<line x1="32.3" y1="47.76" x2="37.5" y2="47.76" stroke="#111" stroke-width="1.4"/>
<text x="30.4" y="51.36" font-size="9.2" font-weight="bold" text-anchor="end" fill="#111">20</text>
<line x1="32.3" y1="22.20" x2="37.5" y2="22.20" stroke="#111" stroke-width="1.4"/>
<text x="30.4" y="25.80" font-size="9.2" font-weight="bold" text-anchor="end" fill="#111">25</text>
<line x1="64.4" y1="150.0" x2="64.4" y2="155.5" stroke="#111" stroke-width="1.3"/>
<line x1="104.5" y1="150.0" x2="104.5" y2="155.5" stroke="#111" stroke-width="1.3"/>
<text x="65.20" y="163.2" font-size="8.6" text-anchor="middle" textLength="21.70" lengthAdjust="spacingAndGlyphs" fill="#111" stroke="#111" stroke-width="0.12">Sepsis</text>
<text x="62.65" y="171.9" font-size="8.6" text-anchor="middle" textLength="47.20" lengthAdjust="spacingAndGlyphs" fill="#111" stroke="#111" stroke-width="0.12">without shock</text>
<text x="104.50" y="163.2" font-size="8.6" text-anchor="middle" textLength="20.90" lengthAdjust="spacingAndGlyphs" fill="#111" stroke="#111" stroke-width="0.12">Septic</text>
<text x="104.95" y="172.2" font-size="8.6" text-anchor="middle" textLength="20.00" lengthAdjust="spacingAndGlyphs" fill="#111" stroke="#111" stroke-width="0.12">shock</text>
<text transform="translate(14.4,126.60) rotate(-90)" font-size="7" font-weight="bold" text-anchor="middle" textLength="25.80" lengthAdjust="spacingAndGlyphs" fill="#111" stroke="#111" stroke-width="0.12">Fibulin2</text>
<text transform="translate(14.4,87.05) rotate(-90)" font-size="7" font-weight="bold" text-anchor="middle" textLength="50.30" lengthAdjust="spacingAndGlyphs" fill="#111" stroke="#111" stroke-width="0.12">concentration</text>
<text transform="translate(14.4,47.35) rotate(-90)" font-size="7" font-weight="bold" text-anchor="middle" textLength="26.10" lengthAdjust="spacingAndGlyphs" fill="#111" stroke="#111" stroke-width="0.12">(ng/ml)</text>
<line x1="64.5" y1="37.3" x2="105.8" y2="37.3" stroke="#444" stroke-width="1"/>
<text x="85.75" y="35.0" font-size="8.7" text-anchor="middle" textLength="25.20" lengthAdjust="spacingAndGlyphs" fill="#222" stroke="#222" stroke-width="0.1">P&lt;0.05</text>
<line x1="64.4" y1="104.5" x2="64.4" y2="128.8" stroke="#ee2b2b" stroke-width="0.8"/>
<line x1="104.6" y1="97.3" x2="104.6" y2="124.5" stroke="#ee2b2b" stroke-width="0.4"/>
<circle cx="61.32" cy="100.01" r="1.35" fill="#cdcdcd"/>
<circle cx="63.08" cy="100.01" r="1.35" fill="#cdcdcd"/>
<circle cx="65.91" cy="99.51" r="1.35" fill="#cdcdcd"/>
<circle cx="67.17" cy="100.37" r="1.35" fill="#cdcdcd"/>
<circle cx="59.89" cy="101.98" r="1.35" fill="#cdcdcd"/>
<circle cx="61.02" cy="101.22" r="1.35" fill="#cdcdcd"/>
<circle cx="63.01" cy="101.43" r="1.35" fill="#cdcdcd"/>
<circle cx="65.07" cy="101.76" r="1.35" fill="#cdcdcd"/>
<circle cx="68.15" cy="101.82" r="1.35" fill="#cdcdcd"/>
<circle cx="59.10" cy="103.33" r="1.35" fill="#cdcdcd"/>
<circle cx="61.84" cy="104.01" r="1.35" fill="#cdcdcd"/>
<circle cx="63.13" cy="103.28" r="1.35" fill="#cdcdcd"/>
<circle cx="64.93" cy="103.92" r="1.35" fill="#cdcdcd"/>
<circle cx="67.97" cy="103.46" r="1.35" fill="#cdcdcd"/>
<circle cx="70.07" cy="103.00" r="1.35" fill="#cdcdcd"/>
<circle cx="59.45" cy="105.28" r="1.35" fill="#cdcdcd"/>
<circle cx="61.13" cy="105.73" r="1.35" fill="#cdcdcd"/>
<circle cx="62.58" cy="105.20" r="1.35" fill="#cdcdcd"/>
<circle cx="65.49" cy="104.94" r="1.35" fill="#cdcdcd"/>
<circle cx="66.80" cy="104.87" r="1.35" fill="#cdcdcd"/>
<circle cx="68.99" cy="105.47" r="1.35" fill="#cdcdcd"/>
<circle cx="71.10" cy="105.68" r="1.35" fill="#cdcdcd"/>
<circle cx="57.23" cy="106.86" r="1.35" fill="#cdcdcd"/>
<circle cx="59.99" cy="107.56" r="1.35" fill="#cdcdcd"/>
<circle cx="61.98" cy="106.85" r="1.35" fill="#cdcdcd"/>
<circle cx="64.05" cy="107.37" r="1.35" fill="#cdcdcd"/>
<circle cx="66.31" cy="106.86" r="1.35" fill="#cdcdcd"/>
<circle cx="68.15" cy="106.99" r="1.35" fill="#cdcdcd"/>
<circle cx="69.41" cy="106.71" r="1.35" fill="#cdcdcd"/>
<circle cx="71.71" cy="107.32" r="1.35" fill="#cdcdcd"/>
<circle cx="55.89" cy="109.09" r="1.35" fill="#cdcdcd"/>
<circle cx="57.63" cy="108.58" r="1.35" fill="#cdcdcd"/>
<circle cx="60.49" cy="108.70" r="1.35" fill="#cdcdcd"/>
<circle cx="62.50" cy="109.53" r="1.35" fill="#cdcdcd"/>
<circle cx="64.85" cy="109.46" r="1.35" fill="#cdcdcd"/>
<circle cx="66.32" cy="108.52" r="1.35" fill="#cdcdcd"/>
<circle cx="70.30" cy="109.25" r="1.35" fill="#cdcdcd"/>
<circle cx="73.10" cy="109.12" r="1.35" fill="#cdcdcd"/>
<circle cx="53.82" cy="110.47" r="1.35" fill="#cdcdcd"/>
<circle cx="56.86" cy="110.94" r="1.35" fill="#cdcdcd"/>
<circle cx="59.04" cy="110.44" r="1.35" fill="#cdcdcd"/>
<circle cx="62.67" cy="110.27" r="1.35" fill="#cdcdcd"/>
<circle cx="64.68" cy="110.89" r="1.35" fill="#cdcdcd"/>
<circle cx="66.77" cy="111.27" r="1.35" fill="#cdcdcd"/>
<circle cx="69.22" cy="111.03" r="1.35" fill="#cdcdcd"/>
<circle cx="70.70" cy="110.24" r="1.35" fill="#cdcdcd"/>
<circle cx="52.66" cy="112.76" r="1.35" fill="#cdcdcd"/>
<circle cx="55.61" cy="112.38" r="1.35" fill="#cdcdcd"/>
<circle cx="56.92" cy="112.66" r="1.35" fill="#cdcdcd"/>
<circle cx="60.01" cy="112.88" r="1.35" fill="#cdcdcd"/>
<circle cx="61.98" cy="113.10" r="1.35" fill="#cdcdcd"/>
<circle cx="63.95" cy="113.08" r="1.35" fill="#cdcdcd"/>
<circle cx="65.73" cy="112.95" r="1.35" fill="#cdcdcd"/>
<circle cx="68.02" cy="112.75" r="1.35" fill="#cdcdcd"/>
<circle cx="70.13" cy="112.73" r="1.35" fill="#cdcdcd"/>
<circle cx="72.30" cy="113.19" r="1.35" fill="#cdcdcd"/>
<circle cx="74.50" cy="112.47" r="1.35" fill="#cdcdcd"/>
<circle cx="76.43" cy="112.53" r="1.35" fill="#cdcdcd"/>
<circle cx="51.50" cy="114.52" r="1.35" fill="#cdcdcd"/>
<circle cx="53.84" cy="114.64" r="1.35" fill="#cdcdcd"/>
<circle cx="56.40" cy="114.90" r="1.35" fill="#cdcdcd"/>
<circle cx="57.78" cy="114.16" r="1.35" fill="#cdcdcd"/>
<circle cx="60.11" cy="114.00" r="1.35" fill="#cdcdcd"/>
<circle cx="62.76" cy="114.33" r="1.35" fill="#cdcdcd"/>
<circle cx="64.46" cy="114.60" r="1.35" fill="#cdcdcd"/>
<circle cx="66.68" cy="114.77" r="1.35" fill="#cdcdcd"/>
<circle cx="69.32" cy="114.26" r="1.35" fill="#cdcdcd"/>
<circle cx="70.74" cy="113.96" r="1.35" fill="#cdcdcd"/>
<circle cx="73.47" cy="114.82" r="1.35" fill="#cdcdcd"/>
<circle cx="75.70" cy="114.13" r="1.35" fill="#cdcdcd"/>
<circle cx="53.46" cy="116.10" r="1.35" fill="#cdcdcd"/>
<circle cx="55.90" cy="115.98" r="1.35" fill="#cdcdcd"/>
<circle cx="58.59" cy="116.14" r="1.35" fill="#cdcdcd"/>
<circle cx="59.54" cy="116.65" r="1.35" fill="#cdcdcd"/>
<circle cx="64.39" cy="115.97" r="1.35" fill="#cdcdcd"/>
<circle cx="65.83" cy="115.76" r="1.35" fill="#cdcdcd"/>
<circle cx="67.94" cy="116.60" r="1.35" fill="#cdcdcd"/>
<circle cx="70.18" cy="115.66" r="1.35" fill="#cdcdcd"/>
<circle cx="72.64" cy="116.36" r="1.35" fill="#cdcdcd"/>
<circle cx="75.18" cy="116.75" r="1.35" fill="#cdcdcd"/>
<circle cx="52.95" cy="117.41" r="1.35" fill="#cdcdcd"/>
<circle cx="55.69" cy="117.61" r="1.35" fill="#cdcdcd"/>
<circle cx="57.35" cy="118.24" r="1.35" fill="#cdcdcd"/>
<circle cx="59.77" cy="118.31" r="1.35" fill="#cdcdcd"/>
<circle cx="62.08" cy="118.49" r="1.35" fill="#cdcdcd"/>
<circle cx="64.35" cy="118.27" r="1.35" fill="#cdcdcd"/>
<circle cx="65.88" cy="118.15" r="1.35" fill="#cdcdcd"/>
<circle cx="67.88" cy="118.08" r="1.35" fill="#cdcdcd"/>
<circle cx="70.49" cy="118.53" r="1.35" fill="#cdcdcd"/>
<circle cx="72.41" cy="117.65" r="1.35" fill="#cdcdcd"/>
<circle cx="74.71" cy="118.17" r="1.35" fill="#cdcdcd"/>
<circle cx="53.93" cy="120.37" r="1.35" fill="#cdcdcd"/>
<circle cx="55.81" cy="119.58" r="1.35" fill="#cdcdcd"/>
<circle cx="57.99" cy="119.62" r="1.35" fill="#cdcdcd"/>
<circle cx="59.59" cy="119.86" r="1.35" fill="#cdcdcd"/>
<circle cx="61.74" cy="119.23" r="1.35" fill="#cdcdcd"/>
<circle cx="63.33" cy="120.16" r="1.35" fill="#cdcdcd"/>
<circle cx="65.76" cy="120.15" r="1.35" fill="#cdcdcd"/>
<circle cx="67.64" cy="119.82" r="1.35" fill="#cdcdcd"/>
<circle cx="70.57" cy="120.03" r="1.35" fill="#cdcdcd"/>
<circle cx="72.25" cy="120.34" r="1.35" fill="#cdcdcd"/>
<circle cx="74.02" cy="119.83" r="1.35" fill="#cdcdcd"/>
<circle cx="54.36" cy="122.01" r="1.35" fill="#cdcdcd"/>
<circle cx="56.21" cy="121.46" r="1.35" fill="#cdcdcd"/>
<circle cx="59.01" cy="121.25" r="1.35" fill="#cdcdcd"/>
<circle cx="61.19" cy="121.63" r="1.35" fill="#cdcdcd"/>
<circle cx="62.37" cy="121.64" r="1.35" fill="#cdcdcd"/>
<circle cx="64.96" cy="121.03" r="1.35" fill="#cdcdcd"/>
<circle cx="66.95" cy="121.48" r="1.35" fill="#cdcdcd"/>
<circle cx="69.11" cy="121.59" r="1.35" fill="#cdcdcd"/>
<circle cx="70.61" cy="121.65" r="1.35" fill="#cdcdcd"/>
<circle cx="73.78" cy="122.11" r="1.35" fill="#cdcdcd"/>
<circle cx="75.30" cy="121.15" r="1.35" fill="#cdcdcd"/>
<circle cx="54.47" cy="123.18" r="1.35" fill="#cdcdcd"/>
<circle cx="56.74" cy="123.91" r="1.35" fill="#cdcdcd"/>
<circle cx="59.03" cy="122.83" r="1.35" fill="#cdcdcd"/>
<circle cx="60.47" cy="123.62" r="1.35" fill="#cdcdcd"/>
<circle cx="62.72" cy="123.54" r="1.35" fill="#cdcdcd"/>
<circle cx="65.27" cy="122.95" r="1.35" fill="#cdcdcd"/>
<circle cx="66.80" cy="123.04" r="1.35" fill="#cdcdcd"/>
<circle cx="69.12" cy="123.25" r="1.35" fill="#cdcdcd"/>
<circle cx="71.33" cy="122.99" r="1.35" fill="#cdcdcd"/>
<circle cx="73.55" cy="123.57" r="1.35" fill="#cdcdcd"/>
<circle cx="75.92" cy="123.53" r="1.35" fill="#cdcdcd"/>
<circle cx="52.72" cy="125.68" r="1.35" fill="#cdcdcd"/>
<circle cx="54.22" cy="125.71" r="1.35" fill="#cdcdcd"/>
<circle cx="57.14" cy="125.67" r="1.35" fill="#cdcdcd"/>
<circle cx="58.33" cy="125.47" r="1.35" fill="#cdcdcd"/>
<circle cx="60.26" cy="125.60" r="1.35" fill="#cdcdcd"/>
<circle cx="63.19" cy="124.75" r="1.35" fill="#cdcdcd"/>
<circle cx="65.17" cy="124.62" r="1.35" fill="#cdcdcd"/>
<circle cx="67.26" cy="125.69" r="1.35" fill="#cdcdcd"/>
<circle cx="68.68" cy="125.21" r="1.35" fill="#cdcdcd"/>
<circle cx="71.25" cy="125.42" r="1.35" fill="#cdcdcd"/>
<circle cx="72.83" cy="124.73" r="1.35" fill="#cdcdcd"/>
<circle cx="52.45" cy="126.62" r="1.35" fill="#cdcdcd"/>
<circle cx="55.39" cy="127.59" r="1.35" fill="#cdcdcd"/>
<circle cx="56.59" cy="126.47" r="1.35" fill="#cdcdcd"/>
<circle cx="59.13" cy="127.32" r="1.35" fill="#cdcdcd"/>
<circle cx="61.24" cy="127.02" r="1.35" fill="#cdcdcd"/>
<circle cx="63.50" cy="126.42" r="1.35" fill="#cdcdcd"/>
<circle cx="65.89" cy="126.62" r="1.35" fill="#cdcdcd"/>
<circle cx="67.87" cy="126.89" r="1.35" fill="#cdcdcd"/>
<circle cx="69.28" cy="127.02" r="1.35" fill="#cdcdcd"/>
<circle cx="74.24" cy="127.25" r="1.35" fill="#cdcdcd"/>
<circle cx="76.13" cy="126.89" r="1.35" fill="#cdcdcd"/>
<circle cx="54.27" cy="128.51" r="1.35" fill="#cdcdcd"/>
<circle cx="56.30" cy="129.13" r="1.35" fill="#cdcdcd"/>
<circle cx="57.99" cy="129.28" r="1.35" fill="#cdcdcd"/>
<circle cx="60.44" cy="129.12" r="1.35" fill="#cdcdcd"/>
<circle cx="62.20" cy="129.07" r="1.35" fill="#cdcdcd"/>
<circle cx="64.22" cy="128.76" r="1.35" fill="#cdcdcd"/>
<circle cx="68.77" cy="128.95" r="1.35" fill="#cdcdcd"/>
<circle cx="71.24" cy="129.00" r="1.35" fill="#cdcdcd"/>
<circle cx="73.00" cy="128.88" r="1.35" fill="#cdcdcd"/>
<circle cx="74.78" cy="129.40" r="1.35" fill="#cdcdcd"/>
<circle cx="56.96" cy="130.03" r="1.35" fill="#cdcdcd"/>
<circle cx="58.77" cy="130.31" r="1.35" fill="#cdcdcd"/>
<circle cx="60.04" cy="130.23" r="1.35" fill="#cdcdcd"/>
<circle cx="62.20" cy="130.30" r="1.35" fill="#cdcdcd"/>
<circle cx="64.84" cy="130.61" r="1.35" fill="#cdcdcd"/>
<circle cx="66.96" cy="131.19" r="1.35" fill="#cdcdcd"/>
<circle cx="69.35" cy="130.09" r="1.35" fill="#cdcdcd"/>
<circle cx="71.39" cy="130.05" r="1.35" fill="#cdcdcd"/>
<circle cx="72.77" cy="130.57" r="1.35" fill="#cdcdcd"/>
<circle cx="57.56" cy="132.93" r="1.35" fill="#cdcdcd"/>
<circle cx="60.22" cy="132.52" r="1.35" fill="#cdcdcd"/>
<circle cx="62.03" cy="132.59" r="1.35" fill="#cdcdcd"/>
<circle cx="64.13" cy="132.66" r="1.35" fill="#cdcdcd"/>
<circle cx="65.91" cy="132.09" r="1.35" fill="#cdcdcd"/>
<circle cx="71.00" cy="132.27" r="1.35" fill="#cdcdcd"/>
<circle cx="62.25" cy="133.69" r="1.35" fill="#cdcdcd"/>
<circle cx="63.73" cy="134.17" r="1.35" fill="#cdcdcd"/>
<circle cx="65.61" cy="134.23" r="1.35" fill="#cdcdcd"/>
<circle cx="68.29" cy="134.16" r="1.35" fill="#cdcdcd"/>
<circle cx="70.50" cy="134.32" r="1.35" fill="#cdcdcd"/>
<circle cx="61.13" cy="135.46" r="1.35" fill="#cdcdcd"/>
<circle cx="63.13" cy="135.93" r="1.35" fill="#cdcdcd"/>
<circle cx="65.63" cy="135.71" r="1.35" fill="#cdcdcd"/>
<circle cx="67.69" cy="136.33" r="1.35" fill="#cdcdcd"/>
<circle cx="63.52" cy="137.49" r="1.35" fill="#cdcdcd"/>
<circle cx="65.81" cy="138.14" r="1.35" fill="#cdcdcd"/>
<circle cx="67.27" cy="137.53" r="1.35" fill="#cdcdcd"/>
<circle cx="64.10" cy="74.50" r="1.35" fill="#cdcdcd"/>
<circle cx="65.10" cy="84.10" r="1.35" fill="#cdcdcd"/>
<circle cx="63.50" cy="86.50" r="1.35" fill="#cdcdcd"/>
<circle cx="61.60" cy="89.10" r="1.35" fill="#cdcdcd"/>
<circle cx="65.60" cy="89.10" r="1.35" fill="#cdcdcd"/>
<circle cx="66.60" cy="91.60" r="1.35" fill="#cdcdcd"/>
<circle cx="64.10" cy="93.60" r="1.35" fill="#cdcdcd"/>
<circle cx="67.10" cy="93.60" r="1.35" fill="#cdcdcd"/>
<circle cx="61.10" cy="96.70" r="1.35" fill="#cdcdcd"/>
<circle cx="64.60" cy="96.70" r="1.35" fill="#cdcdcd"/>
<circle cx="67.10" cy="98.20" r="1.35" fill="#cdcdcd"/>
<circle cx="62.30" cy="99.00" r="1.35" fill="#cdcdcd"/>
<rect x="101.13" y="87.49" width="2.5" height="2.5" fill="#767676"/>
<rect x="102.21" y="87.22" width="2.5" height="2.5" fill="#767676"/>
<rect x="104.83" y="87.65" width="2.5" height="2.5" fill="#767676"/>
<rect x="99.87" y="89.36" width="2.5" height="2.5" fill="#767676"/>
<rect x="106.06" y="89.51" width="2.5" height="2.5" fill="#767676"/>
<rect x="98.23" y="91.95" width="2.5" height="2.5" fill="#767676"/>
<rect x="100.31" y="92.17" width="2.5" height="2.5" fill="#767676"/>
<rect x="102.97" y="92.24" width="2.5" height="2.5" fill="#767676"/>
<rect x="104.64" y="92.63" width="2.5" height="2.5" fill="#767676"/>
<rect x="98.99" y="94.85" width="2.5" height="2.5" fill="#767676"/>
<rect x="100.26" y="94.70" width="2.5" height="2.5" fill="#767676"/>
<rect x="106.10" y="95.23" width="2.5" height="2.5" fill="#767676"/>
<rect x="99.64" y="97.63" width="2.5" height="2.5" fill="#767676"/>
<rect x="101.38" y="98.13" width="2.5" height="2.5" fill="#767676"/>
<rect x="106.17" y="97.17" width="2.5" height="2.5" fill="#767676"/>
<rect x="107.69" y="97.73" width="2.5" height="2.5" fill="#767676"/>
<rect x="97.13" y="100.51" width="2.5" height="2.5" fill="#767676"/>
<rect x="99.88" y="100.09" width="2.5" height="2.5" fill="#767676"/>
<rect x="101.46" y="100.53" width="2.5" height="2.5" fill="#767676"/>
<rect x="105.73" y="100.61" width="2.5" height="2.5" fill="#767676"/>
<rect x="109.03" y="100.09" width="2.5" height="2.5" fill="#767676"/>
<rect x="95.05" y="102.66" width="2.5" height="2.5" fill="#767676"/>
<rect x="105.50" y="102.51" width="2.5" height="2.5" fill="#767676"/>
<rect x="109.04" y="102.76" width="2.5" height="2.5" fill="#767676"/>
<rect x="113.33" y="102.81" width="2.5" height="2.5" fill="#767676"/>
<rect x="114.56" y="103.27" width="2.5" height="2.5" fill="#767676"/>
<rect x="92.87" y="105.68" width="2.5" height="2.5" fill="#767676"/>
<rect x="95.37" y="105.74" width="2.5" height="2.5" fill="#767676"/>
<rect x="98.89" y="105.79" width="2.5" height="2.5" fill="#767676"/>
<rect x="103.74" y="105.80" width="2.5" height="2.5" fill="#767676"/>
<rect x="105.19" y="105.44" width="2.5" height="2.5" fill="#767676"/>
<rect x="107.22" y="105.24" width="2.5" height="2.5" fill="#767676"/>
<rect x="108.88" y="105.33" width="2.5" height="2.5" fill="#767676"/>
<rect x="111.70" y="105.58" width="2.5" height="2.5" fill="#767676"/>
<rect x="113.08" y="105.04" width="2.5" height="2.5" fill="#767676"/>
<rect x="93.62" y="108.34" width="2.5" height="2.5" fill="#767676"/>
<rect x="95.95" y="108.21" width="2.5" height="2.5" fill="#767676"/>
<rect x="97.62" y="108.25" width="2.5" height="2.5" fill="#767676"/>
<rect x="102.03" y="108.24" width="2.5" height="2.5" fill="#767676"/>
<rect x="105.91" y="108.13" width="2.5" height="2.5" fill="#767676"/>
<rect x="109.51" y="108.22" width="2.5" height="2.5" fill="#767676"/>
<rect x="112.07" y="108.20" width="2.5" height="2.5" fill="#767676"/>
<rect x="113.61" y="108.19" width="2.5" height="2.5" fill="#767676"/>
<rect x="94.18" y="111.02" width="2.5" height="2.5" fill="#767676"/>
<rect x="96.32" y="111.11" width="2.5" height="2.5" fill="#767676"/>
<rect x="97.87" y="110.32" width="2.5" height="2.5" fill="#767676"/>
<rect x="100.28" y="110.63" width="2.5" height="2.5" fill="#767676"/>
<rect x="102.06" y="110.88" width="2.5" height="2.5" fill="#767676"/>
<rect x="105.92" y="110.82" width="2.5" height="2.5" fill="#767676"/>
<rect x="107.96" y="110.92" width="2.5" height="2.5" fill="#767676"/>
<rect x="110.06" y="110.18" width="2.5" height="2.5" fill="#767676"/>
<rect x="113.99" y="110.37" width="2.5" height="2.5" fill="#767676"/>
<rect x="95.21" y="112.80" width="2.5" height="2.5" fill="#767676"/>
<rect x="107.37" y="113.36" width="2.5" height="2.5" fill="#767676"/>
<rect x="109.22" y="113.65" width="2.5" height="2.5" fill="#767676"/>
<rect x="113.26" y="113.16" width="2.5" height="2.5" fill="#767676"/>
<rect x="93.38" y="115.96" width="2.5" height="2.5" fill="#767676"/>
<rect x="97.69" y="115.93" width="2.5" height="2.5" fill="#767676"/>
<rect x="100.16" y="115.77" width="2.5" height="2.5" fill="#767676"/>
<rect x="101.99" y="115.72" width="2.5" height="2.5" fill="#767676"/>
<rect x="105.91" y="116.31" width="2.5" height="2.5" fill="#767676"/>
<rect x="107.96" y="115.70" width="2.5" height="2.5" fill="#767676"/>
<rect x="109.35" y="115.46" width="2.5" height="2.5" fill="#767676"/>
<rect x="111.96" y="115.49" width="2.5" height="2.5" fill="#767676"/>
<rect x="114.24" y="115.73" width="2.5" height="2.5" fill="#767676"/>
<rect x="95.64" y="118.91" width="2.5" height="2.5" fill="#767676"/>
<rect x="97.85" y="118.21" width="2.5" height="2.5" fill="#767676"/>
<rect x="99.75" y="118.37" width="2.5" height="2.5" fill="#767676"/>
<rect x="103.75" y="118.24" width="2.5" height="2.5" fill="#767676"/>
<rect x="105.38" y="118.57" width="2.5" height="2.5" fill="#767676"/>
<rect x="107.55" y="118.73" width="2.5" height="2.5" fill="#767676"/>
<rect x="109.27" y="118.48" width="2.5" height="2.5" fill="#767676"/>
<rect x="98.55" y="121.16" width="2.5" height="2.5" fill="#767676"/>
<rect x="100.90" y="121.15" width="2.5" height="2.5" fill="#767676"/>
<rect x="102.38" y="121.31" width="2.5" height="2.5" fill="#767676"/>
<rect x="106.59" y="120.85" width="2.5" height="2.5" fill="#767676"/>
<rect x="108.72" y="120.91" width="2.5" height="2.5" fill="#767676"/>
<rect x="110.85" y="120.59" width="2.5" height="2.5" fill="#767676"/>
<rect x="115.17" y="121.44" width="2.5" height="2.5" fill="#767676"/>
<rect x="94.30" y="123.73" width="2.5" height="2.5" fill="#767676"/>
<rect x="96.51" y="123.63" width="2.5" height="2.5" fill="#767676"/>
<rect x="98.26" y="123.54" width="2.5" height="2.5" fill="#767676"/>
<rect x="100.07" y="123.45" width="2.5" height="2.5" fill="#767676"/>
<rect x="101.94" y="123.99" width="2.5" height="2.5" fill="#767676"/>
<rect x="104.31" y="123.44" width="2.5" height="2.5" fill="#767676"/>
<rect x="106.79" y="123.29" width="2.5" height="2.5" fill="#767676"/>
<rect x="108.43" y="123.65" width="2.5" height="2.5" fill="#767676"/>
<rect x="97.97" y="125.98" width="2.5" height="2.5" fill="#767676"/>
<rect x="100.70" y="126.41" width="2.5" height="2.5" fill="#767676"/>
<rect x="104.88" y="126.75" width="2.5" height="2.5" fill="#767676"/>
<rect x="105.95" y="126.59" width="2.5" height="2.5" fill="#767676"/>
<rect x="99.70" y="128.64" width="2.5" height="2.5" fill="#767676"/>
<rect x="101.71" y="128.96" width="2.5" height="2.5" fill="#767676"/>
<rect x="103.73" y="128.97" width="2.5" height="2.5" fill="#767676"/>
<rect x="103.35" y="50.15" width="2.5" height="2.5" fill="#767676"/>
<rect x="103.35" y="74.55" width="2.5" height="2.5" fill="#767676"/>
<rect x="103.35" y="81.85" width="2.5" height="2.5" fill="#767676"/>
<rect x="103.25" y="136.75" width="2.5" height="2.5" fill="#767676"/>
<line x1="50.900000000000006" y1="116.7" x2="77.9" y2="116.7" stroke="#ee2b2b" stroke-width="1"/>
<line x1="57.60000000000001" y1="104.5" x2="71.2" y2="104.5" stroke="#ee2b2b" stroke-width="1"/>
<line x1="57.60000000000001" y1="128.8" x2="71.2" y2="128.8" stroke="#ee2b2b" stroke-width="1"/>
<line x1="91.1" y1="111.0" x2="118.1" y2="111.0" stroke="#ee2b2b" stroke-width="1"/>
<line x1="98.1" y1="97.3" x2="111.1" y2="97.3" stroke="#ee2b2b" stroke-width="1"/>
<line x1="98.1" y1="124.5" x2="111.1" y2="124.5" stroke="#ee2b2b" stroke-width="1"/>
<circle cx="61.32" cy="100.01" r="1.35" fill="#cdcdcd"/>
<circle cx="63.08" cy="100.01" r="1.35" fill="#cdcdcd"/>
<circle cx="65.91" cy="99.51" r="1.35" fill="#cdcdcd"/>
<circle cx="67.17" cy="100.37" r="1.35" fill="#cdcdcd"/>
<circle cx="59.89" cy="101.98" r="1.35" fill="#cdcdcd"/>
<circle cx="65.07" cy="101.76" r="1.35" fill="#cdcdcd"/>
<circle cx="68.15" cy="101.82" r="1.35" fill="#cdcdcd"/>
<circle cx="59.10" cy="103.33" r="1.35" fill="#cdcdcd"/>
<circle cx="61.84" cy="104.01" r="1.35" fill="#cdcdcd"/>
<circle cx="63.13" cy="103.28" r="1.35" fill="#cdcdcd"/>
<circle cx="64.93" cy="103.92" r="1.35" fill="#cdcdcd"/>
<circle cx="67.97" cy="103.46" r="1.35" fill="#cdcdcd"/>
<circle cx="59.45" cy="105.28" r="1.35" fill="#cdcdcd"/>
<circle cx="61.13" cy="105.73" r="1.35" fill="#cdcdcd"/>
<circle cx="62.58" cy="105.20" r="1.35" fill="#cdcdcd"/>
<circle cx="71.10" cy="105.68" r="1.35" fill="#cdcdcd"/>
<circle cx="57.23" cy="106.86" r="1.35" fill="#cdcdcd"/>
<circle cx="59.99" cy="107.56" r="1.35" fill="#cdcdcd"/>
<circle cx="61.98" cy="106.85" r="1.35" fill="#cdcdcd"/>
<circle cx="64.05" cy="107.37" r="1.35" fill="#cdcdcd"/>
<circle cx="68.15" cy="106.99" r="1.35" fill="#cdcdcd"/>
<circle cx="69.41" cy="106.71" r="1.35" fill="#cdcdcd"/>
<circle cx="55.89" cy="109.09" r="1.35" fill="#cdcdcd"/>
<circle cx="60.49" cy="108.70" r="1.35" fill="#cdcdcd"/>
<circle cx="62.50" cy="109.53" r="1.35" fill="#cdcdcd"/>
<circle cx="64.85" cy="109.46" r="1.35" fill="#cdcdcd"/>
<circle cx="66.32" cy="108.52" r="1.35" fill="#cdcdcd"/>
<circle cx="70.30" cy="109.25" r="1.35" fill="#cdcdcd"/>
<circle cx="73.10" cy="109.12" r="1.35" fill="#cdcdcd"/>
<circle cx="56.86" cy="110.94" r="1.35" fill="#cdcdcd"/>
<circle cx="62.67" cy="110.27" r="1.35" fill="#cdcdcd"/>
<circle cx="52.66" cy="112.76" r="1.35" fill="#cdcdcd"/>
<circle cx="56.92" cy="112.66" r="1.35" fill="#cdcdcd"/>
<circle cx="60.01" cy="112.88" r="1.35" fill="#cdcdcd"/>
<circle cx="63.95" cy="113.08" r="1.35" fill="#cdcdcd"/>
<circle cx="70.13" cy="112.73" r="1.35" fill="#cdcdcd"/>
<circle cx="72.30" cy="113.19" r="1.35" fill="#cdcdcd"/>
<circle cx="74.50" cy="112.47" r="1.35" fill="#cdcdcd"/>
<circle cx="76.43" cy="112.53" r="1.35" fill="#cdcdcd"/>
<circle cx="53.84" cy="114.64" r="1.35" fill="#cdcdcd"/>
<circle cx="56.40" cy="114.90" r="1.35" fill="#cdcdcd"/>
<circle cx="57.78" cy="114.16" r="1.35" fill="#cdcdcd"/>
<circle cx="64.46" cy="114.60" r="1.35" fill="#cdcdcd"/>
<circle cx="66.68" cy="114.77" r="1.35" fill="#cdcdcd"/>
<circle cx="69.32" cy="114.26" r="1.35" fill="#cdcdcd"/>
<circle cx="73.47" cy="114.82" r="1.35" fill="#cdcdcd"/>
<circle cx="75.70" cy="114.13" r="1.35" fill="#cdcdcd"/>
<circle cx="53.46" cy="116.10" r="1.35" fill="#cdcdcd"/>
<circle cx="55.90" cy="115.98" r="1.35" fill="#cdcdcd"/>
<circle cx="58.59" cy="116.14" r="1.35" fill="#cdcdcd"/>
<circle cx="59.54" cy="116.65" r="1.35" fill="#cdcdcd"/>
<circle cx="64.39" cy="115.97" r="1.35" fill="#cdcdcd"/>
<circle cx="67.94" cy="116.60" r="1.35" fill="#cdcdcd"/>
<circle cx="70.18" cy="115.66" r="1.35" fill="#cdcdcd"/>
<circle cx="72.64" cy="116.36" r="1.35" fill="#cdcdcd"/>
<circle cx="75.18" cy="116.75" r="1.35" fill="#cdcdcd"/>
<circle cx="52.95" cy="117.41" r="1.35" fill="#cdcdcd"/>
<circle cx="59.77" cy="118.31" r="1.35" fill="#cdcdcd"/>
<circle cx="62.08" cy="118.49" r="1.35" fill="#cdcdcd"/>
<circle cx="64.35" cy="118.27" r="1.35" fill="#cdcdcd"/>
<circle cx="70.49" cy="118.53" r="1.35" fill="#cdcdcd"/>
<circle cx="53.93" cy="120.37" r="1.35" fill="#cdcdcd"/>
<circle cx="57.99" cy="119.62" r="1.35" fill="#cdcdcd"/>
<circle cx="59.59" cy="119.86" r="1.35" fill="#cdcdcd"/>
<circle cx="61.74" cy="119.23" r="1.35" fill="#cdcdcd"/>
<circle cx="65.76" cy="120.15" r="1.35" fill="#cdcdcd"/>
<circle cx="67.64" cy="119.82" r="1.35" fill="#cdcdcd"/>
<circle cx="74.02" cy="119.83" r="1.35" fill="#cdcdcd"/>
<circle cx="56.21" cy="121.46" r="1.35" fill="#cdcdcd"/>
<circle cx="59.01" cy="121.25" r="1.35" fill="#cdcdcd"/>
<circle cx="61.19" cy="121.63" r="1.35" fill="#cdcdcd"/>
<circle cx="62.37" cy="121.64" r="1.35" fill="#cdcdcd"/>
<circle cx="64.96" cy="121.03" r="1.35" fill="#cdcdcd"/>
<circle cx="66.95" cy="121.48" r="1.35" fill="#cdcdcd"/>
<circle cx="69.11" cy="121.59" r="1.35" fill="#cdcdcd"/>
<circle cx="54.47" cy="123.18" r="1.35" fill="#cdcdcd"/>
<circle cx="56.74" cy="123.91" r="1.35" fill="#cdcdcd"/>
<circle cx="60.47" cy="123.62" r="1.35" fill="#cdcdcd"/>
<circle cx="65.27" cy="122.95" r="1.35" fill="#cdcdcd"/>
<circle cx="66.80" cy="123.04" r="1.35" fill="#cdcdcd"/>
<circle cx="75.92" cy="123.53" r="1.35" fill="#cdcdcd"/>
<circle cx="52.72" cy="125.68" r="1.35" fill="#cdcdcd"/>
<circle cx="54.22" cy="125.71" r="1.35" fill="#cdcdcd"/>
<circle cx="58.33" cy="125.47" r="1.35" fill="#cdcdcd"/>
<circle cx="60.26" cy="125.60" r="1.35" fill="#cdcdcd"/>
<circle cx="63.19" cy="124.75" r="1.35" fill="#cdcdcd"/>
<circle cx="67.26" cy="125.69" r="1.35" fill="#cdcdcd"/>
<circle cx="68.68" cy="125.21" r="1.35" fill="#cdcdcd"/>
<circle cx="72.83" cy="124.73" r="1.35" fill="#cdcdcd"/>
<circle cx="52.45" cy="126.62" r="1.35" fill="#cdcdcd"/>
<circle cx="55.39" cy="127.59" r="1.35" fill="#cdcdcd"/>
<circle cx="59.13" cy="127.32" r="1.35" fill="#cdcdcd"/>
<circle cx="61.24" cy="127.02" r="1.35" fill="#cdcdcd"/>
<circle cx="63.50" cy="126.42" r="1.35" fill="#cdcdcd"/>
<circle cx="69.28" cy="127.02" r="1.35" fill="#cdcdcd"/>
<circle cx="74.24" cy="127.25" r="1.35" fill="#cdcdcd"/>
<circle cx="76.13" cy="126.89" r="1.35" fill="#cdcdcd"/>
<circle cx="54.27" cy="128.51" r="1.35" fill="#cdcdcd"/>
<circle cx="56.30" cy="129.13" r="1.35" fill="#cdcdcd"/>
<circle cx="57.99" cy="129.28" r="1.35" fill="#cdcdcd"/>
<circle cx="62.20" cy="129.07" r="1.35" fill="#cdcdcd"/>
<circle cx="64.22" cy="128.76" r="1.35" fill="#cdcdcd"/>
<circle cx="68.77" cy="128.95" r="1.35" fill="#cdcdcd"/>
<circle cx="71.24" cy="129.00" r="1.35" fill="#cdcdcd"/>
<circle cx="73.00" cy="128.88" r="1.35" fill="#cdcdcd"/>
<circle cx="74.78" cy="129.40" r="1.35" fill="#cdcdcd"/>
<circle cx="56.96" cy="130.03" r="1.35" fill="#cdcdcd"/>
<circle cx="58.77" cy="130.31" r="1.35" fill="#cdcdcd"/>
<circle cx="60.04" cy="130.23" r="1.35" fill="#cdcdcd"/>
<circle cx="64.84" cy="130.61" r="1.35" fill="#cdcdcd"/>
<circle cx="66.96" cy="131.19" r="1.35" fill="#cdcdcd"/>
<circle cx="60.22" cy="132.52" r="1.35" fill="#cdcdcd"/>
<circle cx="62.03" cy="132.59" r="1.35" fill="#cdcdcd"/>
<circle cx="64.13" cy="132.66" r="1.35" fill="#cdcdcd"/>
<circle cx="71.00" cy="132.27" r="1.35" fill="#cdcdcd"/>
<circle cx="63.73" cy="134.17" r="1.35" fill="#cdcdcd"/>
<circle cx="65.61" cy="134.23" r="1.35" fill="#cdcdcd"/>
<circle cx="68.29" cy="134.16" r="1.35" fill="#cdcdcd"/>
<circle cx="70.50" cy="134.32" r="1.35" fill="#cdcdcd"/>
<circle cx="61.13" cy="135.46" r="1.35" fill="#cdcdcd"/>
<circle cx="63.13" cy="135.93" r="1.35" fill="#cdcdcd"/>
<circle cx="67.69" cy="136.33" r="1.35" fill="#cdcdcd"/>
<circle cx="63.52" cy="137.49" r="1.35" fill="#cdcdcd"/>
<circle cx="65.81" cy="138.14" r="1.35" fill="#cdcdcd"/>
<circle cx="64.10" cy="74.50" r="1.35" fill="#cdcdcd"/>
<circle cx="65.10" cy="84.10" r="1.35" fill="#cdcdcd"/>
<circle cx="63.50" cy="86.50" r="1.35" fill="#cdcdcd"/>
<circle cx="66.60" cy="91.60" r="1.35" fill="#cdcdcd"/>
<circle cx="64.10" cy="93.60" r="1.35" fill="#cdcdcd"/>
<circle cx="67.10" cy="93.60" r="1.35" fill="#cdcdcd"/>
<circle cx="61.10" cy="96.70" r="1.35" fill="#cdcdcd"/>
<circle cx="64.60" cy="96.70" r="1.35" fill="#cdcdcd"/>
<rect x="101.13" y="87.49" width="2.5" height="2.5" fill="#767676"/>
<rect x="102.21" y="87.22" width="2.5" height="2.5" fill="#767676"/>
<rect x="99.87" y="89.36" width="2.5" height="2.5" fill="#767676"/>
<rect x="106.06" y="89.51" width="2.5" height="2.5" fill="#767676"/>
<rect x="98.23" y="91.95" width="2.5" height="2.5" fill="#767676"/>
<rect x="104.64" y="92.63" width="2.5" height="2.5" fill="#767676"/>
<rect x="100.26" y="94.70" width="2.5" height="2.5" fill="#767676"/>
<rect x="99.64" y="97.63" width="2.5" height="2.5" fill="#767676"/>
<rect x="106.17" y="97.17" width="2.5" height="2.5" fill="#767676"/>
<rect x="107.69" y="97.73" width="2.5" height="2.5" fill="#767676"/>
<rect x="97.13" y="100.51" width="2.5" height="2.5" fill="#767676"/>
<rect x="99.88" y="100.09" width="2.5" height="2.5" fill="#767676"/>
<rect x="101.46" y="100.53" width="2.5" height="2.5" fill="#767676"/>
<rect x="105.73" y="100.61" width="2.5" height="2.5" fill="#767676"/>
<rect x="113.33" y="102.81" width="2.5" height="2.5" fill="#767676"/>
<rect x="114.56" y="103.27" width="2.5" height="2.5" fill="#767676"/>
<rect x="103.74" y="105.80" width="2.5" height="2.5" fill="#767676"/>
<rect x="112.07" y="108.20" width="2.5" height="2.5" fill="#767676"/>
<rect x="94.18" y="111.02" width="2.5" height="2.5" fill="#767676"/>
<rect x="105.92" y="110.82" width="2.5" height="2.5" fill="#767676"/>
<rect x="107.96" y="110.92" width="2.5" height="2.5" fill="#767676"/>
<rect x="110.06" y="110.18" width="2.5" height="2.5" fill="#767676"/>
<rect x="113.99" y="110.37" width="2.5" height="2.5" fill="#767676"/>
<rect x="95.21" y="112.80" width="2.5" height="2.5" fill="#767676"/>
<rect x="109.22" y="113.65" width="2.5" height="2.5" fill="#767676"/>
<rect x="113.26" y="113.16" width="2.5" height="2.5" fill="#767676"/>
<rect x="101.99" y="115.72" width="2.5" height="2.5" fill="#767676"/>
<rect x="109.35" y="115.46" width="2.5" height="2.5" fill="#767676"/>
<rect x="111.96" y="115.49" width="2.5" height="2.5" fill="#767676"/>
<rect x="97.85" y="118.21" width="2.5" height="2.5" fill="#767676"/>
<rect x="103.75" y="118.24" width="2.5" height="2.5" fill="#767676"/>
<rect x="105.38" y="118.57" width="2.5" height="2.5" fill="#767676"/>
<rect x="109.27" y="118.48" width="2.5" height="2.5" fill="#767676"/>
<rect x="100.90" y="121.15" width="2.5" height="2.5" fill="#767676"/>
<rect x="106.59" y="120.85" width="2.5" height="2.5" fill="#767676"/>
<rect x="108.72" y="120.91" width="2.5" height="2.5" fill="#767676"/>
<rect x="94.30" y="123.73" width="2.5" height="2.5" fill="#767676"/>
<rect x="98.26" y="123.54" width="2.5" height="2.5" fill="#767676"/>
<rect x="100.07" y="123.45" width="2.5" height="2.5" fill="#767676"/>
<rect x="101.94" y="123.99" width="2.5" height="2.5" fill="#767676"/>
<rect x="104.31" y="123.44" width="2.5" height="2.5" fill="#767676"/>
<rect x="106.79" y="123.29" width="2.5" height="2.5" fill="#767676"/>
<rect x="97.97" y="125.98" width="2.5" height="2.5" fill="#767676"/>
<rect x="99.70" y="128.64" width="2.5" height="2.5" fill="#767676"/>
<rect x="103.73" y="128.97" width="2.5" height="2.5" fill="#767676"/>
<rect x="103.35" y="81.85" width="2.5" height="2.5" fill="#767676"/>
<rect x="103.25" y="136.75" width="2.5" height="2.5" fill="#767676"/>
</svg></body></html>
